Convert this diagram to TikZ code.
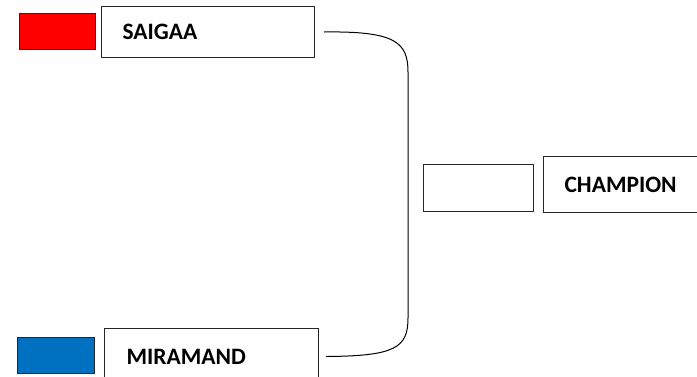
\documentclass[tikz,border=0pt]{standalone}
\usepackage{fontspec}
\setmainfont{Carlito}
\definecolor{teamred}{HTML}{FF0000}
\definecolor{teamblue}{HTML}{0070C0}
\definecolor{edge}{HTML}{262626}
\begin{document}
\begin{tikzpicture}[x=1pt,y=-1pt,
  namebox/.style={draw=edge, line width=1pt, fill=white, minimum height=51pt,
    text width=171pt, inner xsep=21pt, inner ysep=0pt, align=left,
    font=\fontsize{23.5}{26}\selectfont\bfseries, anchor=north west},
  swatch/.style={draw=edge, line width=1pt, inner sep=0pt, anchor=north west},
  bracket/.style={draw=black, line width=1pt}]
\useasboundingbox (0,0) rectangle (697,376);
\node[swatch, fill=teamred, minimum width=76pt, minimum height=36pt] (red) at (19,13) {};
\node[namebox] (saigaa) at (101,6) {SAIGAA};
\node[swatch, fill=teamblue, minimum width=77pt, minimum height=36pt] (blue) at (17,337) {};
\node[namebox, minimum height=56pt, text width=170pt, inner xsep=22pt] (mira) at (104,328) {MIRAMAND};
\node[swatch, fill=white, minimum width=110pt, minimum height=47pt] (winner) at (423,164) {};
\node[namebox, minimum height=56pt] (champ) at (543,156) {CHAMPION};
\coordinate (a) at ([xshift=9pt]saigaa.east);
\coordinate (b) at ([xshift=7pt]mira.east);
\draw[bracket] (a) .. controls (395,31) and (408,42) .. (408,72) -- (408,318)
  .. controls (408,348) and (395,356) .. (b);
\end{tikzpicture}
\end{document}
